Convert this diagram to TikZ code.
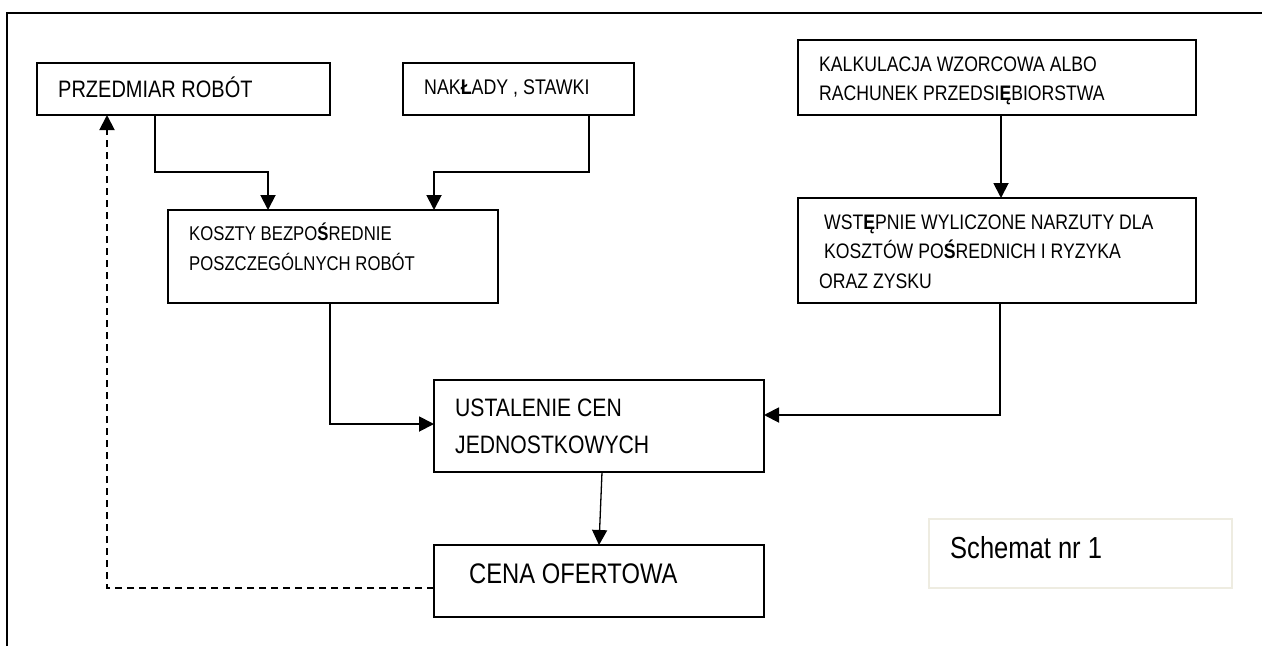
\documentclass[tikz,border=0pt]{standalone}
\usepackage{fontspec}
\setmainfont{Liberation Sans}[FakeStretch=0.84]
\usetikzlibrary{arrows.meta}
\definecolor{paleframe}{HTML}{EEECE1}
\begin{document}
\begin{tikzpicture}[x=1pt,y=-1pt,
  box/.style={draw, line width=1.9pt, inner sep=0pt, outer sep=0pt},
  txt/.style={anchor=base west, inner sep=0pt, align=left},
  link/.style={line width=1.9pt, -{Triangle[length=15pt,width=15pt]}},
  back/.style={line width=1.9pt, dash pattern=on 7pt off 5pt, -{Triangle[length=15pt,width=15pt]}}]
\useasboundingbox (0,0) rectangle (1262,646);

% outer frame (top and left edges)
\draw[line width=1.9pt] (7,646) -- (7,13) -- (1262,13);

% boxes
\node[box, minimum width=293pt, minimum height=52pt]  (przed) at (183.5,89)  {};
\node[box, minimum width=231pt, minimum height=52pt]  (nak)   at (518.5,89)  {};
\node[box, minimum width=398pt, minimum height=75pt]  (kalk)  at (997,77.5)  {};
\node[box, minimum width=398pt, minimum height=105pt] (wst)   at (997,250.5) {};
\node[box, minimum width=330pt, minimum height=93pt]  (kosz)  at (333,256.5) {};
\node[box, minimum width=330pt, minimum height=92pt]  (ust)   at (599,426)   {};
\node[box, minimum width=330pt, minimum height=72pt]  (cena)  at (599,581)   {};
\node[draw=paleframe, line width=1.5pt, inner sep=0pt, minimum width=303pt, minimum height=69pt] (schem) at (1080.5,553.5) {};

% labels (multi-line labels are placed by the baseline of their last line)
\node[txt, font=\fontsize{23.8}{29}\selectfont] (przedT) at (58,97) {PRZEDMIAR ROBÓT};
\node[txt, font=\fontsize{21.2}{29}\selectfont] (nakT) at (424,94) {NAK\textbf{Ł}ADY , STAWKI};
\node[txt, font=\fontsize{21}{29}\selectfont] (kalkT) at (819,100)
  {KALKULACJA WZORCOWA ALBO\\RACHUNEK PRZEDSI\textbf{Ę}BIORSTWA};
\node[txt, font=\fontsize{21}{29.5}\selectfont] (wstT) at (819,288)
  {\hspace{5pt}WST\textbf{Ę}PNIE WYLICZONE NARZUTY DLA\\\hspace{5pt}KOSZTÓW PO\textbf{Ś}REDNICH I RYZYKA\\ORAZ ZYSKU};
\node[txt, font=\fontsize{19.9}{30}\selectfont] (koszT) at (189,270)
  {KOSZTY BEZPO\textbf{Ś}REDNIE\\POSZCZEGÓLNYCH ROBÓT};
\node[txt, font=\fontsize{25.2}{37}\selectfont] (ustT) at (455,453)
  {USTALENIE CEN\\JEDNOSTKOWYCH};
\node[txt, font=\fontsize{28.3}{30}\selectfont] (cenaT) at (469,583) {CENA OFERTOWA};
\node[txt, font=\fontsize{30.4}{30}\selectfont] (schemT) at (950,558) {Schemat nr 1};

% connectors
\draw[link] ([xshift=-28.5pt]przed.south) -- ++(0,57) -| ([xshift=-65pt]kosz.north);
\draw[link] ([xshift=70.5pt]nak.south) -- ++(0,57) -| ([xshift=101pt]kosz.north);
\draw[link] ([xshift=4pt]kalk.south) -- ([xshift=4pt]wst.north);
\draw[link] ([xshift=-3pt]kosz.south) |- ([yshift=2pt]ust.west);
\draw[link] ([xshift=3pt]wst.south) |- ([yshift=11pt]ust.east);
\draw[link, line width=1.3pt] ([xshift=3pt]ust.south) -- (cena.north);
\draw[back] ([yshift=-7pt]cena.west) -| ([xshift=-76.5pt]przed.south);
\end{tikzpicture}
\end{document}
